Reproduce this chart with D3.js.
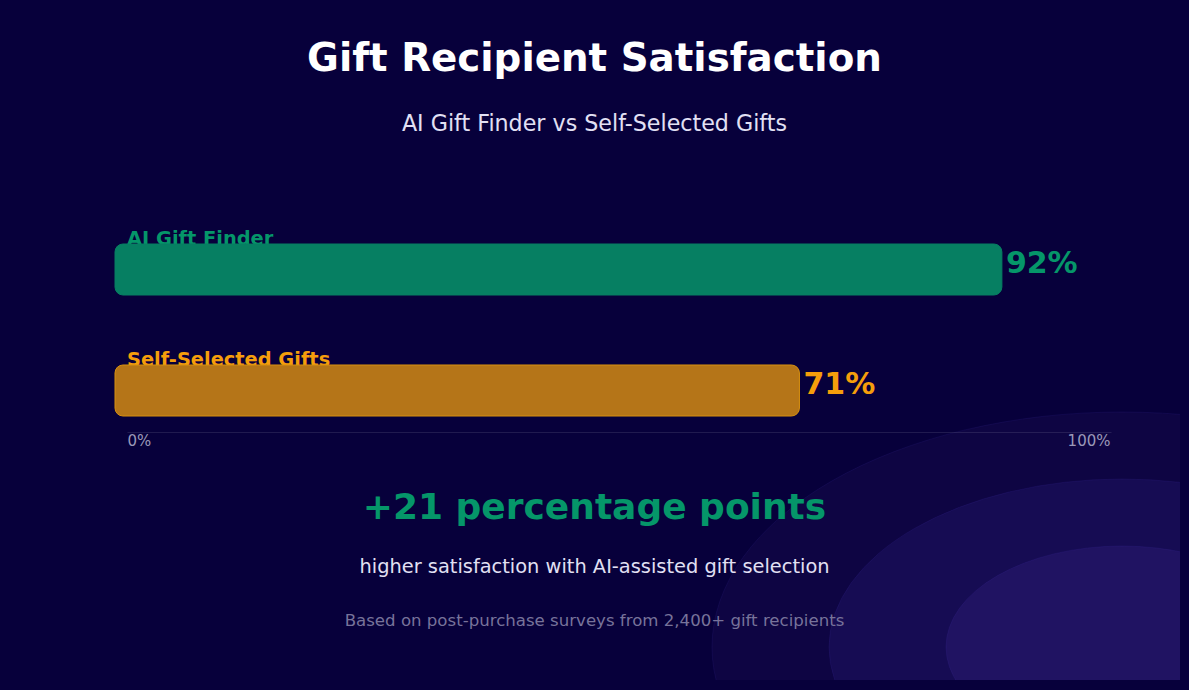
<!DOCTYPE html>
<html>
<head>
<meta charset="utf-8">
<script src="https://cdn.jsdelivr.net/npm/d3@7"></script>
<style>
  html, body { margin: 0; padding: 0; background: #07003b; }
  svg { display: block; }
</style>
</head>
<body>
<script>
// Chart data
var categories = ["AI Gift Finder", "Self-Selected Gifts"];
var satisfaction = [92, 71];
var tickValues = [0, 100];
var tickLabels = ["0%", "100%"];
var diffText = "+21 percentage points";

var W = 1189;
var H = 690;
var labelColors = ["#059669", "#f59e0b"];
var barColors = ["#067f62", "#b57518"];
var barStrokes = ["#067f62", "#d8900f"];

function main() {
  var svg = d3.select("body")
    .append("svg")
    .attr("width", W)
    .attr("height", H);

  svg.append("rect")
    .attr("width", W)
    .attr("height", H)
    .attr("fill", "#07003b");

  // Decorative ellipses, bottom right
  var defs = svg.append("defs");
  defs.append("clipPath")
    .attr("id", "deco")
    .append("rect")
    .attr("x", 0)
    .attr("y", 0)
    .attr("width", 1180)
    .attr("height", 680);

  var deco = svg.append("g").attr("clip-path", "url(#deco)");
  var rings = [
    { rx: 410, ry: 235, fill: "#0e0543" },
    { rx: 293, ry: 168, fill: "#160c53" },
    { rx: 176, ry: 101, fill: "#201362" }
  ];
  deco.selectAll("ellipse")
    .data(rings)
    .enter()
    .append("ellipse")
    .attr("cx", 1122)
    .attr("cy", 647)
    .attr("rx", function(d) { return d.rx; })
    .attr("ry", function(d) { return d.ry; })
    .attr("fill", function(d) { return d.fill; })
    .attr("stroke", "rgba(120,90,255,0.08)");

  // Titles
  svg.append("text")
    .attr("x", W / 2)
    .attr("y", 71)
    .attr("text-anchor", "middle")
    .attr("font-family", "DejaVu Sans")
    .attr("font-weight", "bold")
    .attr("font-size", "38.8px")
    .attr("fill", "#ffffff")
    .text("Gift Recipient Satisfaction");

  svg.append("text")
    .attr("x", W / 2)
    .attr("y", 131)
    .attr("text-anchor", "middle")
    .attr("font-family", "DejaVu Sans")
    .attr("font-size", "22.2px")
    .attr("fill", "#e2e0f4")
    .text("AI Gift Finder vs Self-Selected Gifts");

  // Scales
  var xScale = d3.scaleLinear()
    .domain([0, 100])
    .range([115, 1079]);

  var yScale = d3.scaleBand()
    .domain(categories)
    .range([244, 416])
    .paddingInner(0.5785)
    .paddingOuter(0);

  var axisScale = d3.scaleLinear()
    .domain([0, 100])
    .range([127, 1111]);

  var rows = categories.map(function(c, i) {
    return { name: c, value: satisfaction[i], i: i };
  });

  // Category labels (bars drawn after, overlapping their bottom edge)
  svg.selectAll(".cat")
    .data(rows)
    .enter()
    .append("text")
    .attr("class", "cat")
    .attr("x", 127)
    .attr("y", function(d) { return yScale(d.name) + 1; })
    .attr("font-family", "DejaVu Sans")
    .attr("font-weight", "bold")
    .attr("font-size", "19.4px")
    .attr("fill", function(d) { return labelColors[d.i]; })
    .text(function(d) { return d.name; });

  svg.selectAll(".bar")
    .data(rows)
    .enter()
    .append("rect")
    .attr("class", "bar")
    .attr("x", xScale(0))
    .attr("y", function(d) { return yScale(d.name); })
    .attr("width", function(d) { return xScale(d.value) - xScale(0); })
    .attr("height", yScale.bandwidth())
    .attr("rx", 8)
    .attr("fill", function(d) { return barColors[d.i]; })
    .attr("stroke", function(d) { return barStrokes[d.i]; })
    .attr("stroke-width", 1);

  svg.selectAll(".val")
    .data(rows)
    .enter()
    .append("text")
    .attr("class", "val")
    .attr("x", function(d) { return xScale(d.value) + 4; })
    .attr("y", function(d) { return yScale(d.name) + 29; })
    .attr("font-family", "DejaVu Sans")
    .attr("font-weight", "bold")
    .attr("font-size", "30px")
    .attr("fill", function(d) { return labelColors[d.i]; })
    .text(function(d) { return d.value + "%"; });

  // Axis
  var axis = d3.axisBottom(axisScale)
    .tickValues(tickValues)
    .tickSize(0)
    .tickPadding(0)
    .tickFormat(function(d, i) { return tickLabels[i]; });

  var axisG = svg.append("g")
    .attr("transform", "translate(0,432)")
    .call(axis);

  axisG.select(".domain")
    .attr("stroke", "rgba(255,255,255,0.1)");

  axisG.selectAll(".tick text")
    .attr("font-family", "DejaVu Sans")
    .attr("font-size", "15px")
    .attr("fill", "#9a98b8")
    .attr("dy", null)
    .attr("y", 14)
    .attr("text-anchor", function(d, i) { return i == 0 ? "start" : "end"; })
    .attr("x", function(d, i) { return i == 0 ? 0 : -1; });

  // Summary
  svg.append("text")
    .attr("x", W / 2)
    .attr("y", 519)
    .attr("text-anchor", "middle")
    .attr("font-family", "DejaVu Sans")
    .attr("font-weight", "bold")
    .attr("font-size", "36px")
    .attr("fill", "#059669")
    .text(diffText);

  svg.append("text")
    .attr("x", W / 2)
    .attr("y", 573)
    .attr("text-anchor", "middle")
    .attr("font-family", "DejaVu Sans")
    .attr("font-size", "19.4px")
    .attr("fill", "#e2e0f4")
    .text("higher satisfaction with AI-assisted gift selection");

  svg.append("text")
    .attr("x", W / 2)
    .attr("y", 626)
    .attr("text-anchor", "middle")
    .attr("font-family", "DejaVu Sans")
    .attr("font-size", "16.6px")
    .attr("fill", "#77739a")
    .text("Based on post-purchase surveys from 2,400+ gift recipients");
}

main();
</script>
</body>
</html>
